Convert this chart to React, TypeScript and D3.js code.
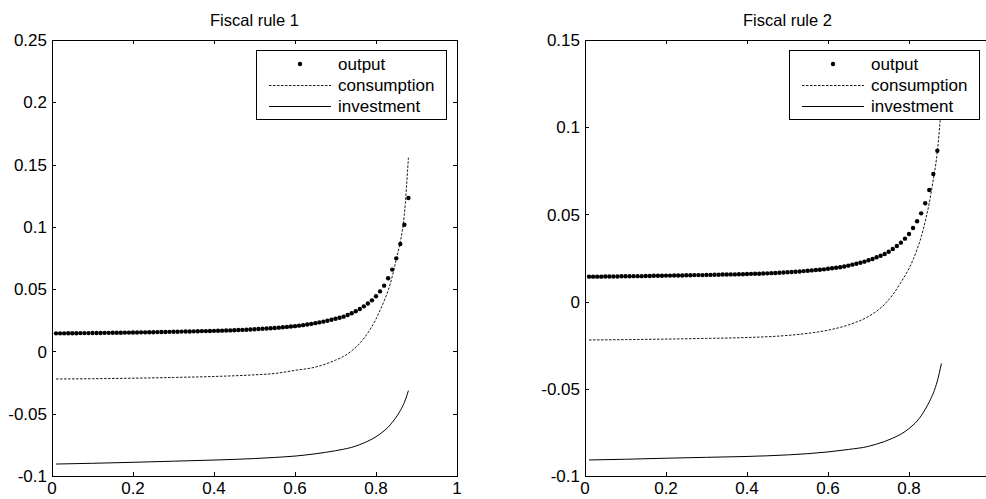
import React from 'react';
import * as d3 from 'd3';

// ---------- data ----------
const outputX = [
  0.01, 0.02, 0.03, 0.04, 0.05, 0.06, 0.07, 0.08, 0.09, 0.10,
  0.11, 0.12, 0.13, 0.14, 0.15, 0.16, 0.17, 0.18, 0.19, 0.20,
  0.21, 0.22, 0.23, 0.24, 0.25, 0.26, 0.27, 0.28, 0.29, 0.30,
  0.31, 0.32, 0.33, 0.34, 0.35, 0.36, 0.37, 0.38, 0.39, 0.40,
  0.41, 0.42, 0.43, 0.44, 0.45, 0.46, 0.47, 0.48, 0.49, 0.50,
  0.51, 0.52, 0.53, 0.54, 0.55, 0.56, 0.57, 0.58, 0.59, 0.60,
  0.61, 0.62, 0.63, 0.64, 0.65, 0.66, 0.67, 0.68, 0.69, 0.70,
  0.71, 0.72, 0.73, 0.74, 0.75, 0.76, 0.77, 0.78, 0.79, 0.80,
  0.81, 0.82, 0.83, 0.84, 0.85, 0.86, 0.87, 0.88,
];

const output1 = [
  0.0145, 0.0145, 0.0145, 0.0146, 0.0146, 0.0146, 0.0147, 0.0147, 0.0147, 0.0148,
  0.0148, 0.0148, 0.0149, 0.0149, 0.0150, 0.0150, 0.0150, 0.0151, 0.0151, 0.0152,
  0.0152, 0.0153, 0.0153, 0.0154, 0.0154, 0.0155, 0.0156, 0.0156, 0.0157, 0.0158,
  0.0158, 0.0159, 0.0160, 0.0160, 0.0161, 0.0162, 0.0163, 0.0163, 0.0164, 0.0165,
  0.0166, 0.0167, 0.0168, 0.0169, 0.0170, 0.0172, 0.0173, 0.0174, 0.0176, 0.0178,
  0.0180, 0.0182, 0.0184, 0.0186, 0.0188, 0.0191, 0.0194, 0.0197, 0.0200, 0.0203,
  0.0207, 0.0211, 0.0216, 0.0221, 0.0227, 0.0233, 0.0239, 0.0246, 0.0254, 0.0262,
  0.0270, 0.0279, 0.0292, 0.0306, 0.0322, 0.0340, 0.0362, 0.0385, 0.0410, 0.0443,
  0.0482, 0.0528, 0.0587, 0.0657, 0.0747, 0.0862, 0.1017, 0.1232,
];

const output2 = [
  0.0143, 0.0143, 0.0143, 0.0143, 0.0144, 0.0144, 0.0144, 0.0144, 0.0145, 0.0145,
  0.0145, 0.0146, 0.0146, 0.0146, 0.0147, 0.0147, 0.0148, 0.0148, 0.0148, 0.0149,
  0.0149, 0.0150, 0.0150, 0.0150, 0.0151, 0.0151, 0.0152, 0.0152, 0.0152, 0.0153,
  0.0153, 0.0154, 0.0154, 0.0155, 0.0155, 0.0156, 0.0156, 0.0157, 0.0157, 0.0158,
  0.0159, 0.0160, 0.0160, 0.0161, 0.0162, 0.0163, 0.0164, 0.0165, 0.0167, 0.0168,
  0.0170, 0.0171, 0.0173, 0.0175, 0.0177, 0.0179, 0.0181, 0.0183, 0.0185, 0.0188,
  0.0191, 0.0194, 0.0197, 0.0201, 0.0206, 0.0212, 0.0217, 0.0223, 0.0229, 0.0237,
  0.0244, 0.0254, 0.0263, 0.0273, 0.0286, 0.0302, 0.0319, 0.0338, 0.0361, 0.0388,
  0.0422, 0.0461, 0.0506, 0.0564, 0.0640, 0.0732, 0.0865, 0.1060,
];

const lineX = [0.01, 0.1, 0.2, 0.3, 0.4, 0.5, 0.55, 0.6, 0.65, 0.7, 0.72, 0.74, 0.76, 0.78, 0.8, 0.81, 0.82, 0.83, 0.84, 0.85, 0.86, 0.87, 0.88];

const consumption1 = [-0.0221, -0.0219, -0.0215, -0.0209, -0.0201, -0.0188, -0.0177, -0.0152, -0.0126, -0.0070, -0.0040, 0.0005, 0.0065, 0.0150, 0.0260, 0.0330, 0.0405, 0.0490, 0.0600, 0.0740, 0.0880, 0.1100, 0.1555];
const investment1 = [-0.0904, -0.0898, -0.0890, -0.0881, -0.0872, -0.0860, -0.0851, -0.0840, -0.0822, -0.0797, -0.0785, -0.0770, -0.0748, -0.0720, -0.0685, -0.0662, -0.0638, -0.0608, -0.0570, -0.0527, -0.0475, -0.0410, -0.0315];

const consumption2 = [-0.0220, -0.0218, -0.0215, -0.0211, -0.0206, -0.0194, -0.0182, -0.0164, -0.0134, -0.0085, -0.0055, -0.0015, 0.0040, 0.0110, 0.0190, 0.0240, 0.0300, 0.0370, 0.0460, 0.0565, 0.0700, 0.0860, 0.1130];
const investment2 = [-0.0908, -0.0904, -0.0898, -0.0893, -0.0888, -0.0879, -0.0872, -0.0862, -0.0848, -0.0830, -0.0817, -0.0802, -0.0783, -0.0760, -0.0728, -0.0708, -0.0685, -0.0655, -0.0618, -0.0575, -0.0525, -0.0455, -0.0355];

const xTicks = [0, 0.2, 0.4, 0.6, 0.8, 1];
const xTickLabels = ['0', '0.2', '0.4', '0.6', '0.8', '1'];
const yTicks1 = [-0.1, -0.05, 0, 0.05, 0.1, 0.15, 0.2, 0.25];
const yTickLabels1 = ['-0.1', '-0.05', '0', '0.05', '0.1', '0.15', '0.2', '0.25'];
const yTicks2 = [-0.1, -0.05, 0, 0.05, 0.1, 0.15];
const yTickLabels2 = ['-0.1', '-0.05', '0', '0.05', '0.1', '0.15'];
const titles = ['Fiscal rule 1', 'Fiscal rule 2'];
const legendLabels = ['output', 'consumption', 'investment'];

// ---------- layout ----------
const W = 986;
const H = 499;
const TOP = 40;
const BOTTOM = 476;
const FONT = '"Liberation Sans", Arial, Helvetica, sans-serif';
const FS = 17;
const FS_TITLE = 16.5;
const TICK = 4;

type PanelProps = {
  left: number;
  right: number;
  yDomain: [number, number];
  yTicks: number[];
  yLabels: string[];
  title: string;
  out: number[];
  cons: number[];
  inv: number[];
};

function Panel({ left, right, yDomain, yTicks, yLabels, title, out, cons, inv }: PanelProps) {
  const x = d3.scaleLinear().domain([0, 1]).range([left, right]);
  const y = d3.scaleLinear().domain(yDomain).range([BOTTOM, TOP]);
  const mkLine = () =>
    d3
      .line<number>()
      .x((_, i) => x(lineX[i]))
      .y((v) => y(v))
      .curve(d3.curveMonotoneX);
  const consPath = mkLine()(cons) || '';
  const invPath = mkLine()(inv) || '';

  const legW = 190;
  const legH = 69;
  const legX = right - 11 - legW;
  const legY = 50;
  const rows = [64, 85, 106];

  return (
    <g>
      {/* data */}
      <path d={invPath} fill="none" stroke="#000" strokeWidth={1} />
      <path d={consPath} fill="none" stroke="#000" strokeWidth={0.9} strokeDasharray="2.5 1.5" />
      {out.map((v, i) => (
        <circle key={i} cx={x(outputX[i])} cy={y(v)} r={2.2} fill="#000" />
      ))}

      {/* axes box */}
      <rect
        x={Math.round(left) + 0.5}
        y={TOP + 0.5}
        width={Math.round(right) - Math.round(left)}
        height={BOTTOM - TOP}
        fill="none"
        stroke="#000"
        strokeWidth={1}
        shapeRendering="crispEdges"
      />
      {xTicks.map((t, i) => {
        const px = Math.round(x(t)) + 0.5;
        const showLabel = x(t) + 4 < W;
        return (
          <g key={'x' + i}>
            <line x1={px} x2={px} y1={BOTTOM} y2={BOTTOM - TICK} stroke="#000" shapeRendering="crispEdges" />
            <line x1={px} x2={px} y1={TOP} y2={TOP + TICK} stroke="#000" shapeRendering="crispEdges" />
            {showLabel && (
              <text x={x(t)} y={494} textAnchor="middle" fontFamily={FONT} fontSize={FS}>
                {xTickLabels[i]}
              </text>
            )}
          </g>
        );
      })}
      {yTicks.map((t, i) => {
        const py = Math.round(y(t)) + 0.5;
        return (
          <g key={'y' + i}>
            <line x1={left} x2={left + TICK} y1={py} y2={py} stroke="#000" shapeRendering="crispEdges" />
            <line x1={right} x2={right - TICK} y1={py} y2={py} stroke="#000" shapeRendering="crispEdges" />
            <text x={left - 5} y={y(t)} dy="0.36em" textAnchor="end" fontFamily={FONT} fontSize={FS}>
              {yLabels[i]}
            </text>
          </g>
        );
      })}

      {/* title */}
      <text x={(left + right) / 2} y={26} textAnchor="middle" fontFamily={FONT} fontSize={FS_TITLE}>
        {title}
      </text>

      {/* legend */}
      <rect x={legX + 0.5} y={legY + 0.5} width={legW} height={legH} fill="#fff" stroke="#000" strokeWidth={1} shapeRendering="crispEdges" />
      <circle cx={legX + 44} cy={rows[0]} r={2.2} fill="#000" />
      <line x1={legX + 13} x2={legX + 75} y1={rows[1] + 0.5} y2={rows[1] + 0.5} stroke="#000" strokeWidth={0.9} strokeDasharray="2.5 1.5" />
      <line x1={legX + 13} x2={legX + 75} y1={rows[2] + 0.5} y2={rows[2] + 0.5} stroke="#000" strokeWidth={1} />
      {legendLabels.map((l, i) => (
        <text key={l} x={legX + 82} y={rows[i]} dy="0.36em" fontFamily={FONT} fontSize={FS}>
          {l}
        </text>
      ))}
    </g>
  );
}

export default function App() {
  return (
    <svg
      width={W}
      height={H}
      style={{ position: 'absolute', left: 0, top: 0, background: '#fff' }}
    >
      <rect x={0} y={0} width={W} height={H} fill="#fff" />
      <Panel
        left={52}
        right={457}
        yDomain={[-0.1, 0.25]}
        yTicks={yTicks1}
        yLabels={yTickLabels1}
        title={titles[0]}
        out={output1}
        cons={consumption1}
        inv={investment1}
      />
      <Panel
        left={585}
        right={990}
        yDomain={[-0.1, 0.15]}
        yTicks={yTicks2}
        yLabels={yTickLabels2}
        title={titles[1]}
        out={output2}
        cons={consumption2}
        inv={investment2}
      />
    </svg>
  );
}
